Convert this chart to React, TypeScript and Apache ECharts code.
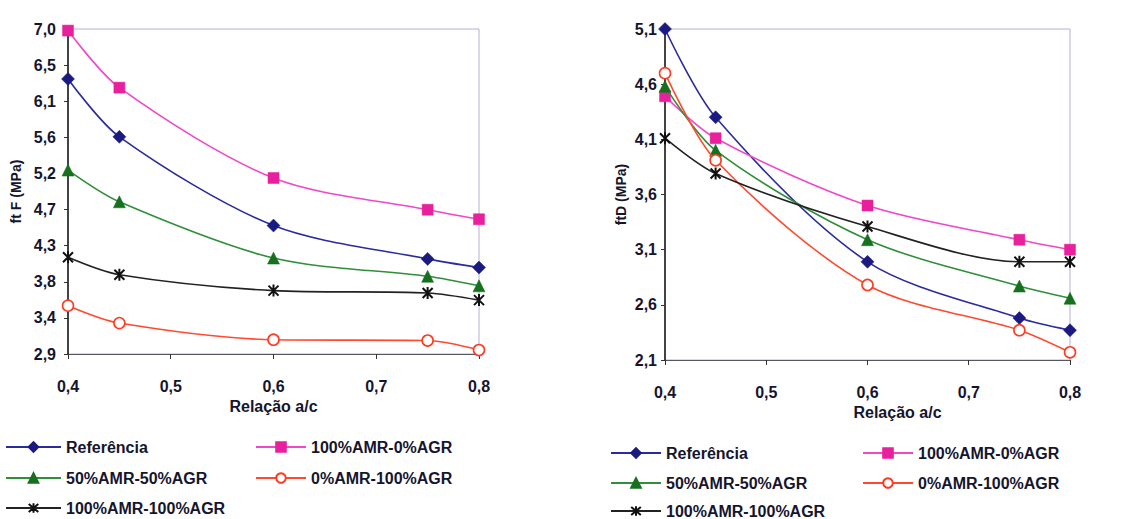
import React, { useEffect, useRef } from "react";
import * as echarts from "echarts";

const xValues = [0.4, 0.45, 0.6, 0.75, 0.8];
const seriesNames = ["Referência", "100%AMR-0%AGR", "50%AMR-50%AGR", "0%AMR-100%AGR", "100%AMR-100%AGR"];

// Left chart: ft F (MPa)
const ftF_ref = [6.37, 5.64, 4.52, 4.1, 3.99];
const ftF_100_0 = [6.98, 6.26, 5.12, 4.72, 4.6];
const ftF_50_50 = [5.22, 4.82, 4.11, 3.88, 3.76];
const ftF_0_100 = [3.51, 3.29, 3.08, 3.07, 2.95];
const ftF_100_100 = [4.12, 3.9, 3.7, 3.67, 3.58];

// Right chart: ftD (MPa)
const ftD_ref = [5.1, 4.3, 2.99, 2.48, 2.37];
const ftD_100_0 = [4.49, 4.11, 3.5, 3.19, 3.1];
const ftD_50_50 = [4.58, 4.0, 3.19, 2.77, 2.66];
const ftD_0_100 = [4.7, 3.91, 2.78, 2.37, 2.17];
const ftD_100_100 = [4.11, 3.79, 3.31, 2.99, 2.99];

const leftAxis = { min: 2.9, max: 7.0 };
const rightAxis = { min: 2.1, max: 5.1, interval: 0.5 };

const FONT = "'Liberation Sans', Arial, sans-serif";
const TXT = "#15152e";
const ASTERISK = "path://M0,0 L10,10 M10,0 L0,10 M5,-1 L5,11";

const styles = [
  { symbol: "diamond", size: 13, line: "#2b2b9e", fill: "#1a1a80", border: "#1a1a80" },
  { symbol: "rect", size: 11, line: "#f048c8", fill: "#e8209e", border: "#e8209e" },
  { symbol: "triangle", size: 12, line: "#2f8f3a", fill: "#17701e", border: "#17701e" },
  { symbol: "circle", size: 11, line: "#ff4a30", fill: "#ffffff", border: "#ff3a20" },
  { symbol: ASTERISK, size: 12, line: "#222222", fill: "transparent", border: "#111111" },
];

const fmt = (v: number) => v.toFixed(1).replace(".", ",");

function makeSeries(data: number[][], idx: number) {
  return data.map((vals, i) => {
    const s = styles[i];
    return {
      name: seriesNames[i],
      type: "line",
      xAxisIndex: idx,
      yAxisIndex: idx,
      smooth: 0.3,
      symbol: s.symbol,
      symbolSize: s.size,
      symbolKeepAspect: true,
      data: xValues.map((x, j) => [x, vals[j]]),
      lineStyle: { color: s.line, width: 1.6 },
      itemStyle: {
        color: s.fill,
        borderColor: s.border,
        borderWidth: i === 3 ? 1.6 : i === 4 ? 2 : 0.5,
      },
      z: 3 + i,
    };
  });
}

// legend placement: [seriesIndex, left, centerY, itemWidth]
const legendPlaces: [number, number, number, number][] = [
  [0, 5, 447, 55],
  [2, 5, 478, 55],
  [4, 5, 508, 55],
  [1, 255, 447, 50],
  [3, 255, 478, 50],
  [0, 610, 453, 50],
  [2, 610, 483, 50],
  [4, 610, 511, 50],
  [1, 862, 453, 50],
  [3, 862, 483, 50],
];

export default function App() {
  const ref = useRef<HTMLDivElement>(null);
  useEffect(() => {
    if (!ref.current) return;
    const chart = echarts.init(ref.current, undefined, { renderer: "svg" });
    const axisLabel = { color: TXT, fontFamily: FONT, fontWeight: "bold", fontSize: 16 };
    const xAxisBase = (gridIndex: number, padLeft: number) => ({
      type: "value",
      gridIndex,
      min: 0.4,
      max: 0.8,
      interval: 0.1,
      name: "Relação a/c",
      nameLocation: "middle",
      nameGap: 43,
      nameTextStyle: { color: TXT, fontFamily: FONT, fontWeight: "bold", fontSize: 16, padding: [0, 0, 0, padLeft] },
      axisLine: { show: true, onZero: false, lineStyle: { color: "#555566", width: 1.2 } },
      axisTick: { show: true, length: 5, lineStyle: { color: "#333" } },
      axisLabel: { ...axisLabel, margin: 24, formatter: (v: number) => fmt(v) },
      splitLine: { show: false },
    });
    chart.setOption({
      animation: false,
      backgroundColor: "#ffffff",
      grid: [
        { left: 68, top: 29, width: 411, height: 325, show: true, borderColor: "#b4b0d4", borderWidth: 1 },
        { left: 665, top: 29, width: 405, height: 331, show: true, borderColor: "#b4b0d4", borderWidth: 1 },
      ],
      xAxis: [xAxisBase(0, 0), xAxisBase(1, 60)],
      yAxis: [
        {
          type: "value",
          gridIndex: 0,
          min: leftAxis.min,
          max: leftAxis.max,
          interval: (leftAxis.max - leftAxis.min) / 9,
          name: "ft F (MPa)",
          nameLocation: "middle",
          nameGap: 45,
          nameTextStyle: { color: TXT, fontFamily: FONT, fontWeight: "bold", fontSize: 14 },
          axisLine: { show: true, onZero: false, lineStyle: { color: "#111", width: 1.5 } },
          axisTick: { show: true, length: 4, lineStyle: { color: "#333" } },
          axisLabel: { ...axisLabel, margin: 12, formatter: (v: number) => fmt(v) },
          splitLine: { show: false },
        },
        {
          type: "value",
          gridIndex: 1,
          min: rightAxis.min,
          max: rightAxis.max,
          interval: rightAxis.interval,
          name: "ftD (MPa)",
          nameLocation: "middle",
          nameGap: 37,
          nameTextStyle: { color: TXT, fontFamily: FONT, fontWeight: "bold", fontSize: 14 },
          axisLine: { show: true, onZero: false, lineStyle: { color: "#111", width: 1.5 } },
          axisTick: { show: true, length: 4, lineStyle: { color: "#333" } },
          axisLabel: { ...axisLabel, margin: 8, formatter: (v: number) => fmt(v) },
          splitLine: { show: false },
        },
      ],
      legend: legendPlaces.map(([si, left, cy, w]) => ({
        left,
        top: cy - 8,
        itemWidth: w,
        itemHeight: 12,
        padding: 0,
        selectedMode: false,
        textStyle: { color: TXT, fontFamily: FONT, fontWeight: "bold", fontSize: 16 },
        data: [seriesNames[si]],
      })),
      series: [
        ...makeSeries([ftF_ref, ftF_100_0, ftF_50_50, ftF_0_100, ftF_100_100], 0),
        ...makeSeries([ftD_ref, ftD_100_0, ftD_50_50, ftD_0_100, ftD_100_100], 1),
      ],
    });
    return () => chart.dispose();
  }, []);
  return <div ref={ref} style={{ position: "fixed", left: 0, top: 0, width: 1129, height: 519 }} />;
}
